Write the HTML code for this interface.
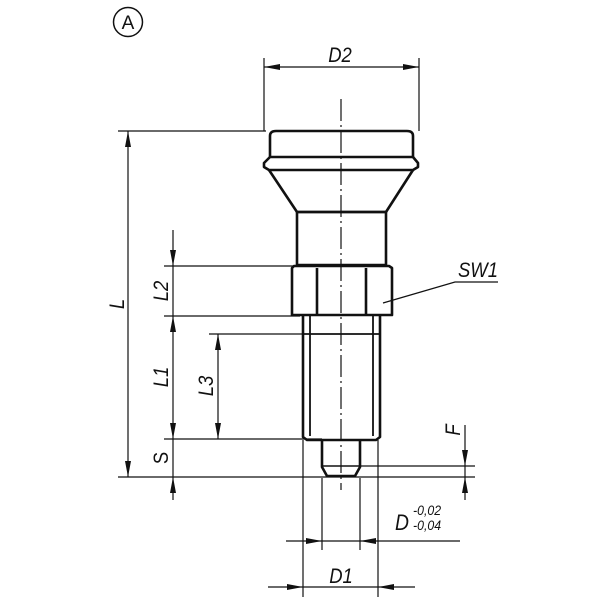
<!DOCTYPE html>
<html><head><meta charset="utf-8"><style>
html,body{margin:0;padding:0;background:#fff;}
svg{display:block}
text{font-family:"Liberation Sans",sans-serif;font-style:italic;fill:#111}
</style></head><body>
<svg width="600" height="600" viewBox="0 0 600 600" xmlns="http://www.w3.org/2000/svg">
<defs>
<marker id="a" viewBox="0 0 16 6" refX="16" refY="3" markerWidth="16" markerHeight="6" markerUnits="userSpaceOnUse" orient="auto-start-reverse">
<path d="M0,0 L16,3 L0,6 z" fill="#111"/></marker>
</defs>
<g stroke="#111" fill="none">
<circle cx="128" cy="22" r="14.5" stroke-width="1.5"/>
<g stroke-width="1.2">
<line x1="264" y1="58" x2="264" y2="131"/>
<line x1="419" y1="58" x2="419" y2="131"/>
<line x1="264" y1="67" x2="419" y2="67" marker-start="url(#a)" marker-end="url(#a)"/>
<line x1="118" y1="131" x2="266" y2="131"/>
<line x1="164" y1="266" x2="296" y2="266"/>
<line x1="164" y1="316" x2="300" y2="316"/>
<line x1="209" y1="334" x2="304" y2="334"/>
<line x1="164" y1="439" x2="322" y2="439"/>
<line x1="118" y1="477" x2="475" y2="477"/>
<line x1="360" y1="466" x2="475" y2="466"/>
<line x1="128" y1="131" x2="128" y2="477" marker-start="url(#a)" marker-end="url(#a)"/>
<line x1="173" y1="230" x2="173" y2="266" marker-end="url(#a)"/>
<line x1="173" y1="266" x2="173" y2="316"/>
<line x1="173" y1="316" x2="173" y2="439" marker-start="url(#a)" marker-end="url(#a)"/>
<line x1="173" y1="439" x2="173" y2="477"/>
<line x1="173" y1="500" x2="173" y2="477" marker-end="url(#a)"/>
<line x1="218" y1="334" x2="218" y2="439" marker-start="url(#a)" marker-end="url(#a)"/>
<line x1="465" y1="425" x2="465" y2="466" marker-end="url(#a)"/>
<line x1="465" y1="466" x2="465" y2="477"/>
<line x1="465" y1="500" x2="465" y2="477" marker-end="url(#a)"/>
<line x1="303" y1="440" x2="303" y2="597"/>
<line x1="378" y1="440" x2="378" y2="597"/>
<line x1="322" y1="478" x2="322" y2="550"/>
<line x1="360" y1="478" x2="360" y2="550"/>
<line x1="286" y1="541" x2="322" y2="541" marker-end="url(#a)"/>
<line x1="322" y1="541" x2="360" y2="541"/>
<line x1="460" y1="541" x2="360" y2="541" marker-end="url(#a)"/>
<line x1="268" y1="587" x2="303" y2="587" marker-end="url(#a)"/>
<line x1="303" y1="587" x2="378" y2="587"/>
<line x1="415" y1="587" x2="378" y2="587" marker-end="url(#a)"/>
<polyline points="383,303 455,282 498,282"/>
<line x1="341" y1="99" x2="341" y2="490" stroke-dasharray="22,4,2,4"/>
</g>
<g stroke-width="2.6" stroke-linejoin="round">
<path d="M270,157 L270,136 Q270,131 276,131 L407,131 Q413,131 413,136 L413,157"/>
<path d="M270,157 L413,157 L418,163 L418,167 L413,170 L269,170 L264,167 L264,163 Z"/>
<path d="M269,170 L297,212 L386,212 L413,170"/>
<rect x="297" y="212" width="89" height="53"/>
<path d="M292,268 L294,266 L389,266 L392,268 L392,315 L292,315 Z"/>
<line x1="317" y1="268" x2="317" y2="315"/>
<line x1="366" y1="268" x2="366" y2="315"/>
<path d="M303,315 L303,437 L307,440 L376,440 L380,437 L380,315"/>
<line x1="303" y1="334" x2="380" y2="334" stroke-width="1.8"/>
<line x1="310" y1="316" x2="310" y2="436" stroke-width="1.8"/>
<line x1="373" y1="316" x2="373" y2="436" stroke-width="1.8"/>
<path d="M322,440 L322,467 L327,476 L355,476 L360,467 L360,440"/>
<line x1="322" y1="466" x2="360" y2="466" stroke-width="1.6"/>
</g>
</g>
<text x="128" y="29" font-size="19" text-anchor="middle" style="font-style:normal">A</text>
<text transform="translate(340,62) scale(0.88,1)" font-size="21" text-anchor="middle">D2</text>
<text transform="translate(498,277) scale(0.88,1)" font-size="21" text-anchor="end">SW1</text>
<text transform="translate(124,304) rotate(-90) scale(0.88,1)" font-size="21" text-anchor="middle">L</text>
<text transform="translate(168,291) rotate(-90) scale(0.88,1)" font-size="21" text-anchor="middle">L2</text>
<text transform="translate(168,377) rotate(-90) scale(0.88,1)" font-size="21" text-anchor="middle">L1</text>
<text transform="translate(213,386) rotate(-90) scale(0.88,1)" font-size="21" text-anchor="middle">L3</text>
<text transform="translate(168,458) rotate(-90) scale(0.88,1)" font-size="21" text-anchor="middle" style="font-style:normal">S</text>
<text transform="translate(460,430) rotate(-90) scale(0.88,1)" font-size="21" text-anchor="middle">F</text>
<text transform="translate(395,530) scale(0.88,1)" font-size="22">D</text>
<text transform="translate(413,515) scale(0.88,1)" font-size="14">-0,02</text>
<text transform="translate(413,530) scale(0.88,1)" font-size="14">-0,04</text>
<text transform="translate(341,583) scale(0.88,1)" font-size="21" text-anchor="middle">D1</text>
</svg>
</body></html>
